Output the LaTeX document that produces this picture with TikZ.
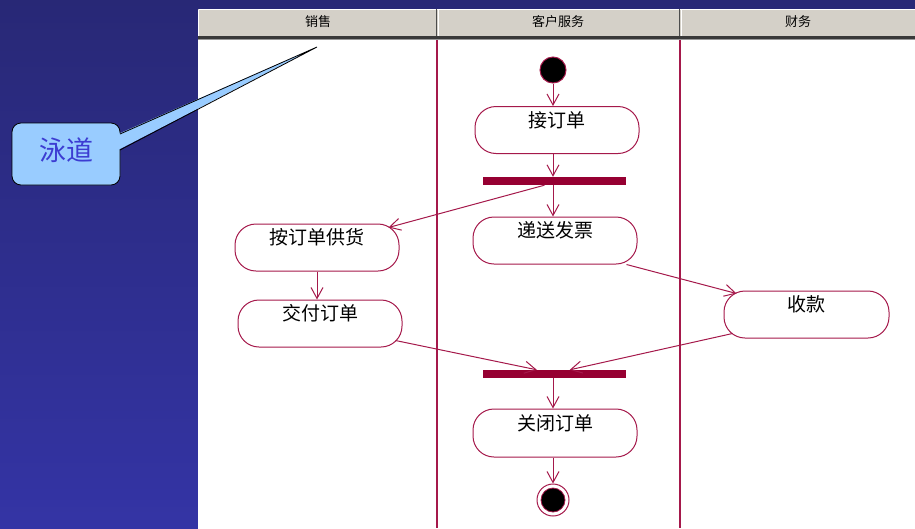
\documentclass[tikz,border=0pt]{standalone}
\usepackage{fontspec}
\setmainfont{Noto Sans CJK SC}
\usetikzlibrary{arrows.meta,calc}
\definecolor{uml}{RGB}{165,25,75}
\definecolor{barc}{RGB}{150,0,50}
\definecolor{hdr}{RGB}{212,208,200}
\definecolor{bgtop}{RGB}{40,40,118}
\definecolor{bgbot}{RGB}{52,52,165}
\definecolor{callfill}{RGB}{153,204,255}
\definecolor{calltext}{RGB}{60,60,210}
\begin{document}
\begin{tikzpicture}[x=1pt,y=-1pt,
  act/.style={draw=uml, line width=1pt, rounded corners=21pt, minimum width=164pt,
    minimum height=47pt, fill=white, font=\fontsize{19}{19}\selectfont,
    text height=14pt, text depth=20pt, inner sep=0pt},
  syncbar/.style={fill=barc, minimum width=143pt, minimum height=8pt, inner sep=0pt},
  flow/.style={draw=uml, line width=1pt, -{Straight Barb[length=11pt,width=12pt]}},
  lanehead/.style={font=\fontsize{13}{13}\selectfont, inner sep=0pt}]
\useasboundingbox (0,0) rectangle (915,528);
% background
\shade[top color=bgtop, bottom color=bgbot] (0,0) rectangle (915,528);
\fill[white] (198,40) rectangle (915,528.5);
% header
\fill[hdr] (198,9) rectangle (915,36);
\draw[white] (198.5,9.5) -- (915,9.5);
\draw[white] (198.5,9.5) -- (198.5,36);
\fill[gray!45!black] (198,36) rectangle (915,38.5);
\fill[gray!80!white] (198,38.5) rectangle (915,40);
\draw[gray!60!black] (436,9) -- (436,36);
\draw[white] (438,9) -- (438,36);
\draw[gray!60!black] (679,9) -- (679,36);
\draw[white] (681,9) -- (681,36);
\node[lanehead] (h1) at (318,22) {销售};
\node[lanehead] (h2) at (558,22) {客户服务};
\node[lanehead] (h3) at (798,22) {财务};
% lane lines
\draw[uml, line width=1.2pt] (437,40) -- (437,528);
\draw[uml, line width=1.2pt] (680,40) -- (680,528);
% callout
\node[draw=black, line width=0.8pt, fill=callfill, rounded corners=9pt,
  minimum width=108pt, minimum height=62pt, inner sep=0pt,
  text=calltext, font=\fontsize{27}{27}\selectfont,
  text height=18pt, text depth=6pt] (call) at (66,154) {泳道};
\fill[callfill] (118,134) -- (317,47) -- (118,150) -- cycle;
\draw[black, line width=0.8pt] (120,134) -- (317,47) -- (120,150);
% activity nodes
\node[circle, fill=black, draw=uml, line width=1pt, minimum size=26pt, inner sep=0pt] (start) at (553,70) {};
\node[act] (a1) at (557,130) {接订单};
\node[syncbar] (bar1) at (554.5,181) {};
\node[act] (a2) at (555,240.5) {递送发票};
\node[act] (a3) at (317,247.5) {按订单供货};
\node[act] (a4) at (320,323.5) {交付订单};
\node[act, minimum width=165pt] (a5) at (806.5,314.5) {收款};
\node[syncbar] (bar2) at (554.5,374) {};
\node[act, minimum height=48pt] (a6) at (555,433) {关闭订单};
\node[circle, fill=white, draw=uml, line width=1pt, minimum size=32pt, inner sep=0pt] (end) at (553,500) {};
\fill[black, draw=uml, line width=0.8pt] (end) circle (12pt);
% flows
\draw[flow] (start.south) -- (a1.north -| start);
\draw[flow] (a1.south -| start) -- (bar1.north -| start);
\draw[flow] ($(bar1.south west)!0.43!(bar1.south east)$) -- ($(a3.north east)+(-11,4)$);
\draw[flow] (bar1.south -| start) -- (a2.north -| start);
\draw[flow] (a3.south) -- (a4.north -| a3);
\draw[flow] ($(a2.south east)+(-11,0)$) -- ($(a5.north west)+(13,3)$);
\draw[flow] ($(a4.south east)+(-7,-7)$) -- ($(bar2.north west)+(54,0)$);
\draw[flow] ($(a5.south west)+(9,-5)$) -- ($(bar2.north west)+(87,0)$);
\draw[flow] (bar2.south -| start) -- (a6.north -| start);
\draw[flow] (a6.south -| end) -- (end.north);
\end{tikzpicture}
\end{document}
